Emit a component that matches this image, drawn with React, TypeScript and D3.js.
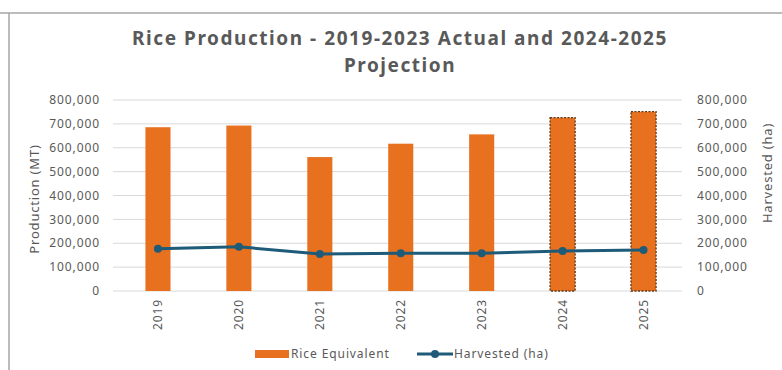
import React from "react";
import * as d3 from "d3";

const years = ["2019", "2020", "2021", "2022", "2023", "2024", "2025"];
const riceEquivalent = [686000, 693000, 561000, 617000, 656000, 726000, 751000];
const harvested = [177000, 185000, 155000, 158000, 158000, 168000, 172000];
const projectedYears = ["2024", "2025"];
const yTicks = [0, 100000, 200000, 300000, 400000, 500000, 600000, 700000, 800000];
const titleLines = ["Rice Production - 2019-2023 Actual and 2024-2025", "Projection"];

const W = 782;
const H = 370;
const FONT = "'Noto Sans', 'Open Sans', sans-serif";
const GRAY = "#595959";
const ORANGE = "#e8711f";
const TEAL = "#1e5b78";

export default function App() {
  const x = d3
    .scaleBand<string>()
    .domain(years)
    .range([117.5, 684])
    .paddingInner(0.69)
    .paddingOuter(0.345);
  const yL = d3.scaleLinear().domain([0, 800000]).range([291, 100]);
  const yR = d3.scaleLinear().domain([0, 800000]).range([291, 100]);
  const fmt = d3.format(",");
  const cx = (d: string) => (x(d) ?? 0) + x.bandwidth() / 2;

  const linePath = d3
    .line<number>()
    .x((_, i) => cx(years[i]))
    .y((d) => yR(d))(harvested);

  return (
    <svg
      width={W}
      height={H}
      style={{ position: "absolute", left: 0, top: 0, background: "#fff" }}
      fontFamily={FONT}
    >
      <rect x={0} y={0} width={W} height={H} fill="#fff" />
      {/* frame */}
      <line x1={0} y1={13} x2={W} y2={13} stroke="#a6a6a6" strokeWidth={1.5} />
      <line x1={9} y1={13} x2={9} y2={H} stroke="#a6a6a6" strokeWidth={1.5} />

      {/* title */}
      {titleLines.map((t, i) => (
        <text
          key={i}
          x={400}
          y={45 + i * 27}
          textAnchor="middle"
          fontSize={19}
          letterSpacing={1.55}
          fontWeight="bold"
          fill={GRAY}
        >
          {t}
        </text>
      ))}

      {/* gridlines */}
      {yTicks.map((t) => (
        <line
          key={t}
          x1={113}
          x2={682}
          y1={yL(t)}
          y2={yL(t)}
          stroke="#d9d9d9"
          strokeWidth={1}
        />
      ))}

      {/* left axis labels */}
      {yTicks.map((t) => (
        <text
          key={"l" + t}
          x={100}
          y={yL(t)}
          dy="0.35em"
          textAnchor="end"
          fontSize={12}
          letterSpacing={0.9}
          fill={GRAY}
        >
          {fmt(t)}
        </text>
      ))}
      {/* right axis labels */}
      {yTicks.map((t) => (
        <text
          key={"r" + t}
          x={697}
          y={yR(t)}
          dy="0.35em"
          textAnchor="start"
          fontSize={12}
          letterSpacing={0.9}
          fill={GRAY}
        >
          {fmt(t)}
        </text>
      ))}

      {/* axis titles */}
      <text
        transform={`translate(39,199) rotate(-90)`}
        textAnchor="middle"
        fontSize={13}
        letterSpacing={0.8}
        fill={GRAY}
      >
        Production (MT)
      </text>
      <text
        transform={`translate(772,173) rotate(-90)`}
        textAnchor="middle"
        fontSize={13}
        letterSpacing={0.8}
        fill={GRAY}
      >
        Harvested (ha)
      </text>

      {/* bars */}
      {years.map((yr, i) => {
        const proj = projectedYears.includes(yr);
        return (
          <rect
            key={yr}
            x={x(yr)}
            y={yL(riceEquivalent[i])}
            width={x.bandwidth()}
            height={yL(0) - yL(riceEquivalent[i])}
            fill={ORANGE}
            stroke={proj ? "#5b3a1e" : "none"}
            strokeWidth={proj ? 1.3 : 0}
            strokeDasharray={proj ? "2,1.5" : undefined}
          />
        );
      })}

      {/* line */}
      <path d={linePath ?? ""} fill="none" stroke={TEAL} strokeWidth={3} />
      {harvested.map((v, i) => (
        <circle key={i} cx={cx(years[i])} cy={yR(v)} r={4} fill={TEAL} />
      ))}

      {/* x labels */}
      {years.map((yr) => (
        <text
          key={"x" + yr}
          transform={`translate(${cx(yr)},299) rotate(-90)`}
          textAnchor="end"
          dy="0.35em"
          fontSize={12}
          letterSpacing={0.9}
          fill={GRAY}
        >
          {yr}
        </text>
      ))}

      {/* legend */}
      <rect x={255} y={350} width={34} height={8} fill={ORANGE} />
      <text x={291} y={354} dy="0.35em" fontSize={12} letterSpacing={0.9} fill={GRAY}>
        Rice Equivalent
      </text>
      <line x1={417} x2={453} y1={354} y2={354} stroke={TEAL} strokeWidth={3} />
      <circle cx={435} cy={354} r={4} fill={TEAL} />
      <text x={454} y={354} dy="0.35em" fontSize={12} letterSpacing={0.9} fill={GRAY}>
        Harvested (ha)
      </text>
    </svg>
  );
}
